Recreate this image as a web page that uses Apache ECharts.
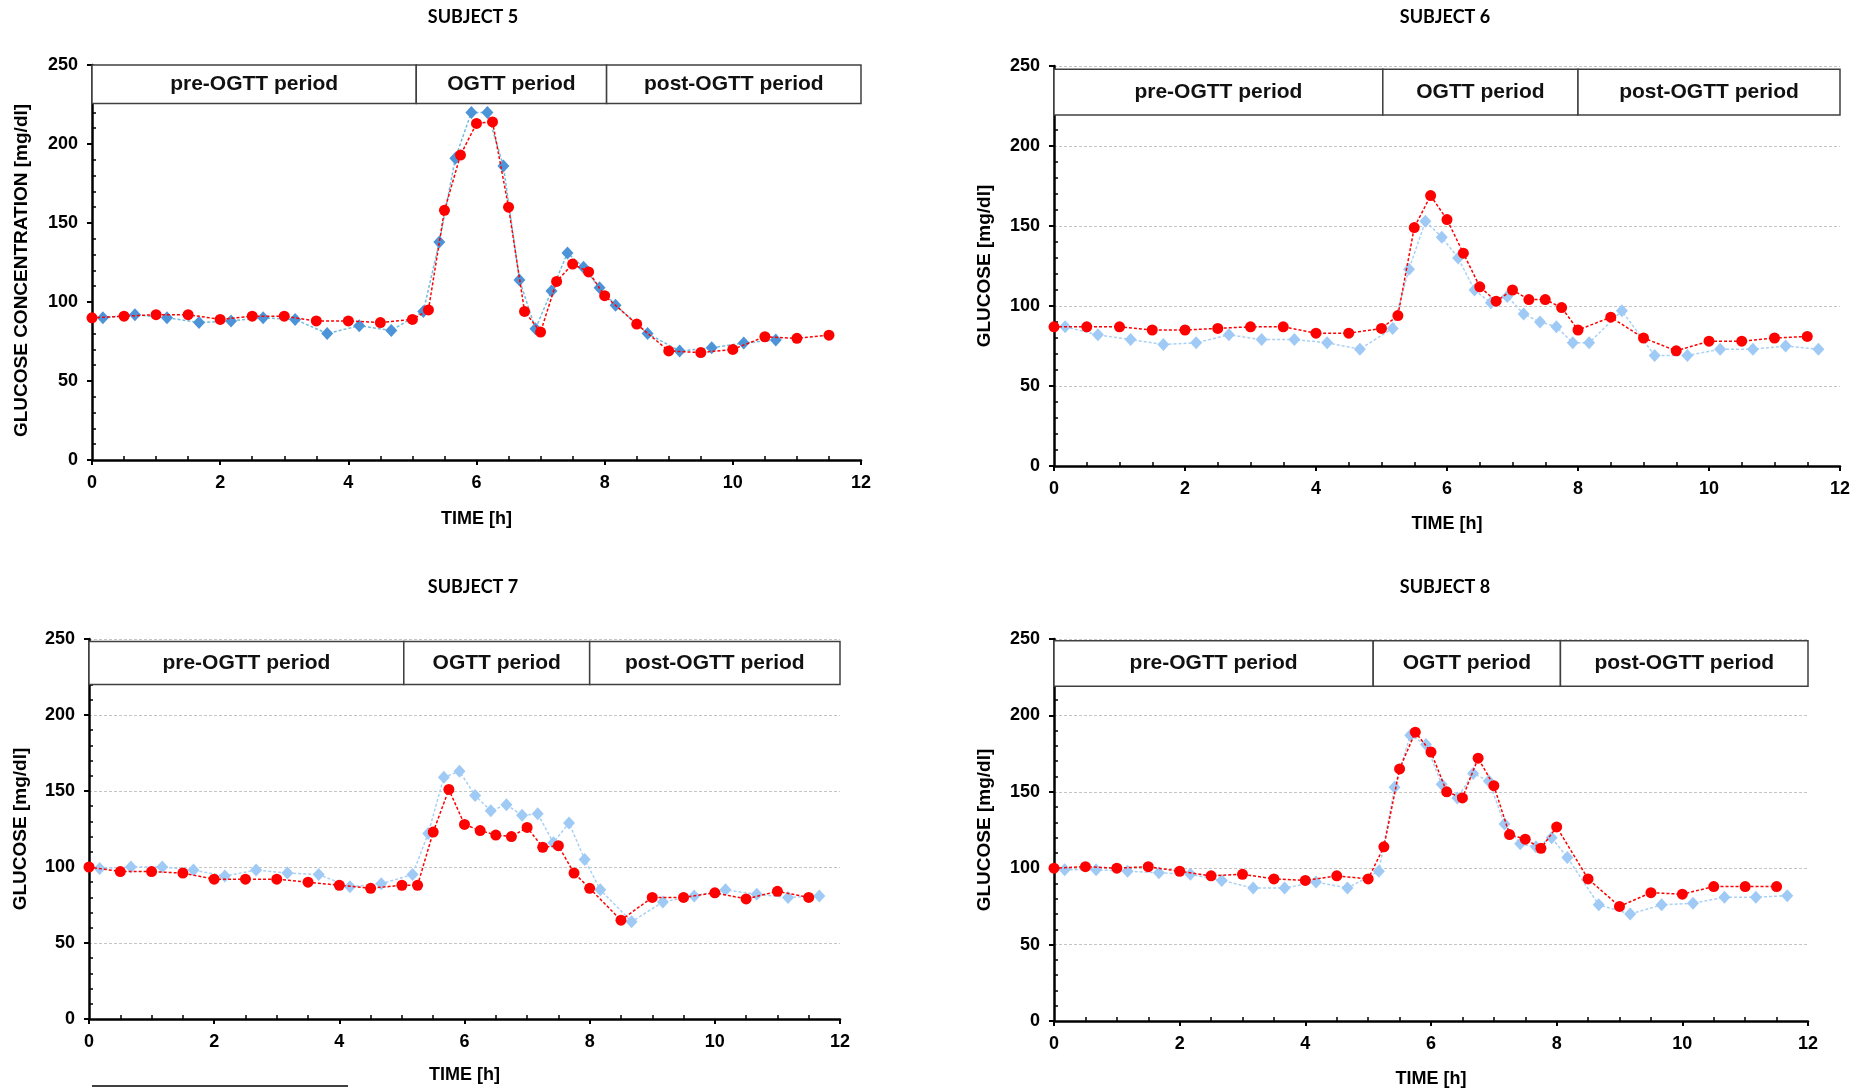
<!DOCTYPE html>
<html>
<head>
<meta charset="utf-8">
<title>Glucose OGTT subjects 5-8</title>
<script src="https://cdn.jsdelivr.net/npm/echarts@6/dist/echarts.min.js"></script>
<style>
  html, body { margin: 0; padding: 0; background: #fff; }
  #chart { width: 1865px; height: 1091px; }
</style>
</head>
<body>
<div id="chart"></div>
<script>
// sampling times [h]
const redTimes = [0, 0.5, 1, 1.5, 2, 2.5, 3, 3.5, 4, 4.5, 5, 5.25, 5.5, 5.75, 6, 6.25, 6.5, 6.75, 7, 7.25, 7.5, 7.75, 8, 8.5, 9, 9.5, 10, 10.5, 11, 11.5];
const blueTimes = [0.17, 0.67, 1.17, 1.67, 2.17, 2.67, 3.17, 3.67, 4.17, 4.67, 5.17, 5.42, 5.67, 5.92, 6.17, 6.42, 6.67, 6.92, 7.17, 7.42, 7.67, 7.92, 8.17, 8.67, 9.17, 9.67, 10.17, 10.67, 11.17, 11.67];

// glucose [mg/dl]
const s5Red = [90, 91, 92, 92, 89, 91, 91, 88, 88, 87, 89, 95, 158, 193, 213, 214, 160, 94, 81, 113, 124, 119, 104, 86, 69, 68, 70, 78, 77, 79];
const s5Blue = [90, 92, 90, 87, 88, 90, 89, 80, 85, 82, 94, 138, 191, 220, 220, 186, 114, 83, 107, 131, 122, 109, 98, 80, 69, 71, 74, 76];
const s6Red = [87, 87, 87, 85, 85, 86, 87, 87, 83, 83, 86, 94, 149, 169, 154, 133, 112, 103, 110, 104, 104, 99, 85, 93, 80, 72, 78, 78, 80, 81];
const s6Blue = [87, 82, 79, 76, 77, 82, 79, 79, 77, 73, 86, 123, 153, 143, 130, 110, 102, 106, 95, 90, 87, 77, 77, 97, 69, 69, 73, 73, 75, 73];
const s7Red = [100, 97, 97, 96, 92, 92, 92, 90, 88, 86, 88, 88, 123, 151, 128, 124, 121, 120, 126, 113, 114, 96, 86, 65, 80, 80, 83, 79, 84, 80];
const s7Blue = [99, 100, 100, 98, 94, 98, 96, 95, 87, 89, 95, 122, 159, 163, 147, 137, 141, 134, 135, 116, 129, 105, 85, 64, 77, 81, 85, 82, 80, 81];
const s8Red = [100, 101, 100, 101, 98, 95, 96, 93, 92, 95, 93, 114, 165, 189, 176, 150, 146, 172, 154, 122, 119, 113, 127, 93, 75, 84, 83, 88, 88, 88];
const s8Blue = [99, 99, 98, 97, 96, 92, 87, 87, 91, 87, 98, 153, 187, 181, 155, 146, 162, 157, 129, 116, 114, 120, 107, 76, 70, 76, 77, 81, 81, 82];

// period boxes
const phaseNames = ["pre-OGTT period", "OGTT period", "post-OGTT period"];
const s5Phases = [0, 5.06, 8.03, 12.03];
const s6Phases = [0, 5.02, 8.0, 12.0];
const s7Phases = [0, 5.03, 8.0, 12.0];
const s8Phases = [0, 5.08, 8.06, 12.1];
const s5Box = [225.7, 250];
const s6Box = [219.4, 248];
const s7Box = [220, 248.4];
const s8Box = [219, 248.8];

const titles = ["SUBJECT 5", "SUBJECT 6", "SUBJECT 7", "SUBJECT 8"];
const yNames = ["GLUCOSE CONCENTRATION [mg/dl]", "GLUCOSE [mg/dl]", "GLUCOSE [mg/dl]", "GLUCOSE [mg/dl]"];

const subjects = [
  { red: s5Red, blue: s5Blue, phases: s5Phases, box: s5Box },
  { red: s6Red, blue: s6Blue, phases: s6Phases, box: s6Box },
  { red: s7Red, blue: s7Blue, phases: s7Phases, box: s7Box },
  { red: s8Red, blue: s8Blue, phases: s8Phases, box: s8Box },
];

// layout of the four panels
const grids = [
  { left: 92, top: 65, width: 769, height: 395 },
  { left: 1054, top: 66, width: 786, height: 400 },
  { left: 89, top: 639, width: 751, height: 380 },
  { left: 1054, top: 639, width: 754, height: 382 },
];
const titlePos = [[473, 17], [1445, 17], [473, 587], [1445, 587]];
const nameGaps = [50, 49, 47, 49];
const yNameGaps = [61, 60, 59, 60];

const FONT = "Liberation Sans";
const zip = (xs, ys) => ys.map((v, i) => [xs[i], v]);

let xAxes = [], yAxes = [], series = [];
grids.forEach((g, i) => {
  // main axes: line, labels, outward major ticks
  xAxes.push({
    gridIndex: i, type: "value", min: 0, max: 12, interval: 2, position: "bottom",
    name: "TIME [h]", nameLocation: "middle", nameGap: nameGaps[i],
    nameTextStyle: { fontFamily: FONT, fontWeight: "bold", fontSize: 18, color: "#000" },
    axisLine: { onZero: false, lineStyle: { color: "#000", width: 2.5 } },
    axisTick: { length: 5, lineStyle: { color: "#000", width: 2 } },
    axisLabel: { margin: 14, fontFamily: FONT, fontWeight: "bold", fontSize: 18, color: "#000" },
    splitLine: { show: false },
  });
  // second axis only for the inward minor ticks
  xAxes.push({
    gridIndex: i, type: "value", min: 0, max: 12, interval: 2, position: "bottom",
    axisLine: { show: false, onZero: false }, axisLabel: { show: false },
    axisTick: { show: false, inside: true },
    minorTick: { show: true, splitNumber: 4, length: 4, lineStyle: { color: "#000", width: 1.5 } },
    splitLine: { show: false },
  });
  yAxes.push({
    gridIndex: i, type: "value", min: 0, max: 250, interval: 50, position: "left",
    name: yNames[i], nameLocation: "middle", nameGap: yNameGaps[i],
    nameTextStyle: {
      fontFamily: FONT, fontWeight: "bold", fontSize: 19, color: "#000",
      padding: i === 0 ? [0, 16, 0, 0] : 0,
    },
    axisLine: { show: true, onZero: false, lineStyle: { color: "#000", width: 2.5 } },
    axisTick: { show: true, length: 5, lineStyle: { color: "#000", width: 2 } },
    axisLabel: { margin: 14, fontFamily: FONT, fontWeight: "bold", fontSize: 18, color: "#000" },
    splitLine: { show: i > 0, lineStyle: { color: "#c4c4c4", width: 1, type: [3, 2] } },
  });
  yAxes.push({
    gridIndex: i, type: "value", min: 0, max: 250, interval: 50, position: "left",
    axisLine: { show: false, onZero: false }, axisLabel: { show: false },
    axisTick: { show: false, inside: true },
    minorTick: { show: true, splitNumber: 5, length: 4, lineStyle: { color: "#000", width: 1.5 } },
    splitLine: { show: false },
  });

  const s = subjects[i];
  const first = i === 0;
  series.push({
    type: "line",
    xAxisIndex: i * 2, yAxisIndex: i * 2,
    data: zip(blueTimes, s.blue),
    symbol: "diamond", symbolSize: [12, 13],
    itemStyle: { color: first ? "#4d93d8" : "#9fcaf5" },
    lineStyle: { color: first ? "#72bcdc" : "#a9d0f5", width: 1.5, type: [3, 2] },
    z: 2,
  });
  series.push({
    type: "line",
    xAxisIndex: i * 2, yAxisIndex: i * 2,
    data: zip(redTimes, s.red),
    symbol: "circle", symbolSize: 11,
    itemStyle: { color: "#ff0000" },
    lineStyle: { color: "#ff0000", width: 1.5, type: [3, 2] },
    clip: false,
    z: 3,
    markArea: {
      silent: true,
      itemStyle: { color: "#ffffff", borderColor: "#404040", borderWidth: 1.5, opacity: 1 },
      label: { show: true, position: "inside", fontFamily: FONT, fontWeight: "bold", fontSize: 21, color: "#111" },
      data: phaseNames.map((n, k) => [
        { name: n, xAxis: s.phases[k], yAxis: s.box[0] },
        { xAxis: s.phases[k + 1], yAxis: s.box[1] },
      ]),
    },
  });
});

const graphic = titles.map((t, i) => ({
  type: "text", x: titlePos[i][0], y: titlePos[i][1],
  style: { text: t, fontFamily: "Lato", fontWeight: "bold", fontSize: 18, fill: "#000", textAlign: "center", textVerticalAlign: "middle" },
}));
graphic.push({ type: "line", shape: { x1: 92, y1: 1086, x2: 348, y2: 1086 }, style: { stroke: "#000", lineWidth: 1.5 } });

const chart = echarts.init(document.getElementById("chart"));
chart.setOption({
  animation: false,
  backgroundColor: "#fff",
  grid: grids,
  xAxis: xAxes,
  yAxis: yAxes,
  series: series,
  graphic: graphic,
});
</script>
</body>
</html>
